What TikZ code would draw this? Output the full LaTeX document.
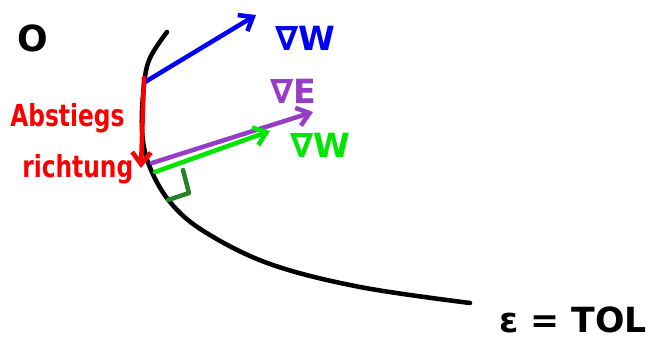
\documentclass[tikz,border=0pt]{standalone}
\usepackage{fontspec}
\setmainfont{DejaVu Sans}
\usetikzlibrary{arrows.meta}
\definecolor{penblue}{RGB}{0,0,245}
\definecolor{penred}{RGB}{250,0,0}
\definecolor{penpurple}{RGB}{150,60,200}
\definecolor{pengreen}{RGB}{0,230,0}
\definecolor{pendkgreen}{RGB}{40,130,40}
\tikzset{
  pen/.style={line width=3.4pt, line cap=round, line join=round},
  vec/.style={pen, -{Straight Barb[length=9pt, width=14pt, line width=3.4pt]}},
  lbl/.style={inner sep=0pt, font=\bfseries\fontsize{25}{27}\selectfont},
  redlbl/.style={inner sep=0pt, text=penred, yscale=1.3, font=\bfseries\fontsize{17.5}{20}\selectfont}
}
\begin{document}
\begin{tikzpicture}[x=0.75pt, y=-0.75pt]
\useasboundingbox (0,0) rectangle (668,352);
% curve eps = TOL
\draw[pen, black] plot[smooth, tension=0.6] coordinates {(167,32) (150,58) (144,85) (142,130) (149,165) (170,202) (205,232) (270,264) (360,287) (470,303)};
% points
\coordinate (p1) at (145,82);
\coordinate (p2) at (152,163);
\coordinate (p3) at (155,172);
\coordinate (bt) at (256,15);
\coordinate (rt) at (141,168);
\coordinate (pt) at (313,112);
\coordinate (gt) at (270,131);
\coordinate (ra1) at (183,170);
\coordinate (ra2) at (189,193);
\coordinate (ra3) at (168,200);
% labels
\node[lbl, text=black, font=\bfseries\fontsize{27}{29}\selectfont] (o) at (33,38) {O};
\node[lbl, text=penblue] (gw1) at (305,38) {∇W};
\node[lbl, text=penpurple] (ge) at (293,91) {∇E};
\node[lbl, text=pengreen] (gw2) at (320,145) {∇W};
\node[redlbl, anchor=base west] (ab) at (10,127) {Abstiegs};
\node[redlbl, anchor=base west] (ri) at (22,178) {richtung};
\node[inner sep=0pt, font=\bfseries\fontsize{26}{28}\selectfont] (tol) at (573,320) {ε = TOL};
% vectors
\draw[vec, penblue] (p1) -- (bt);
\draw[vec, penred] (144,78) -- (rt);
\draw[vec, penpurple] (p2) -- (pt);
\draw[vec, pengreen] (p3) -- (gt);
\draw[pen, pendkgreen] (ra1) -- (ra2) -- (ra3);
\end{tikzpicture}
\end{document}
